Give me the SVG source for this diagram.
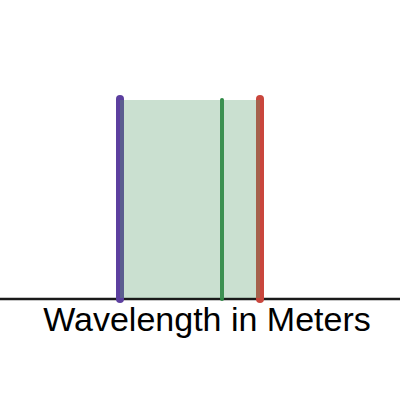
<svg xmlns="http://www.w3.org/2000/svg" width="400" height="400" viewBox="0 0 400 400">
<style>
.ln{stroke-linecap:round;fill:none}
.lbl{font-family:"Liberation Sans",Arial,sans-serif;font-size:34px;fill:#000}
</style>
<rect width="400" height="400" fill="#fff"/>
<line id="axis" x1="0" y1="299" x2="400" y2="299" stroke="#1a1a1a" stroke-width="2.5"/>
<g id="lines">
<line id="purple" class="ln" x1="120" y1="99" x2="120" y2="299" stroke="#5c3f9f" stroke-width="8"/>
<line id="green" class="ln" x1="222" y1="100" x2="222" y2="299" stroke="#2f8a45" stroke-width="4"/>
<line id="red" class="ln" x1="260" y1="99" x2="260" y2="299" stroke="#c9463d" stroke-width="8"/>
</g>
<rect id="band" x="120" y="100" width="140" height="198" fill="#5a9e6e" fill-opacity="0.32"/>
<text class="lbl" x="207" y="331" text-anchor="middle">Wavelength in Meters</text>
</svg>
